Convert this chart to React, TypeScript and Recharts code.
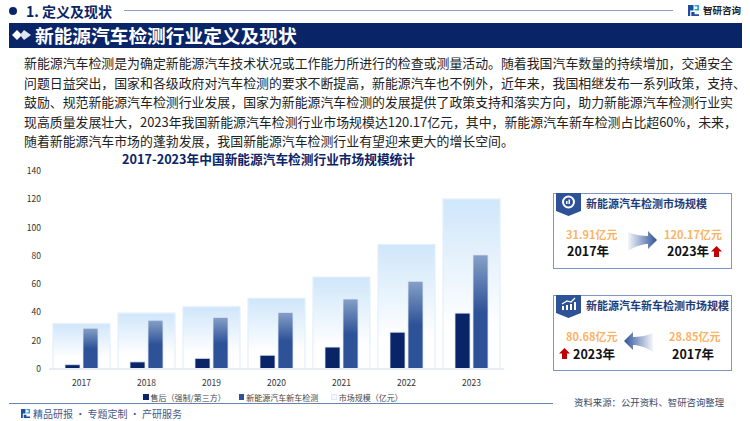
import { BarChart, Bar, XAxis, YAxis, Legend } from "recharts";

const YEARS = ["2017", "2018", "2019", "2020", "2021", "2022", "2023"];
const AFTER_SALES = [3.06, 5, 7.5, 9.7, 15.5, 26, 39.49];
const NEW_CAR = [28.85, 34.5, 36.5, 40, 49.5, 62, 80.68];
const MARKET = [31.91, 39.5, 44, 50, 65, 88, 120.17];
const Y_TICKS = [0, 20, 40, 60, 80, 100, 120, 140];

const LEGEND_ITEMS = [
  { label: "售后（强制/第三方）", color: "#0a2468", border: "#0a2468" },
  { label: "新能源汽车新车检测", color: "#2e5298", border: "#2e5298" },
  { label: "市场规模（亿元）", color: "#f4f9ff", border: "#dce9fb" },
];

const PARAGRAPH = [
  "新能源汽车检测是为确定新能源汽车技术状况或工作能力所进行的检查或测量活动。随着我国汽车数量的持续增加，交通安全",
  "问题日益突出，国家和各级政府对汽车检测的要求不断提高，新能源汽车也不例外，近年来，我国相继发布一系列政策，支持、",
  "鼓励、规范新能源汽车检测行业发展，国家为新能源汽车检测的发展提供了政策支持和落实方向，助力新能源汽车检测行业实",
  "现高质量发展壮大，2023年我国新能源汽车检测行业市场规模达120.17亿元，其中，新能源汽车新车检测占比超60%，未来，",
  "随着新能源汽车市场的蓬勃发展，我国新能源汽车检测行业有望迎来更大的增长空间。",
];
const PARAGRAPH_TOPS = [53, 73, 92, 112, 131];

const data = YEARS.map((year, i) => ({
  year,
  afterSales: AFTER_SALES[i],
  newCar: NEW_CAR[i],
  market: MARKET[i],
}));

const FONT = '"Noto Sans CJK SC", "Noto Sans", sans-serif';
const NAVY = "#0a2468";

function Txt(props: { x: number; y: number; size: number; color: string; bold?: boolean; w?: number; align?: "left" | "center" | "right"; children: React.ReactNode }) {
  const { x, y, size, color, bold, w, align, children } = props;
  return (
    <div style={{
      position: "absolute", left: x, top: y - 10, height: 20, lineHeight: "20px", width: w,
      fontSize: size, color, fontWeight: bold ? 700 : 400, whiteSpace: "nowrap", textAlign: align,
    }}>{children}</div>
  );
}

function Logo({ x, y, s }: { x: number; y: number; s: number }) {
  return (
    <svg style={{ position: "absolute", left: x, top: y }} width={s} height={s} viewBox="0 0 10 10">
      <path d="M0 0H5V5H2V10H0Z" fill="#1d4f9c" />
      <path d="M6 0H10V5H6V3.6H8.4V1.4H6Z" fill="#2aa4dc" />
      <path d="M3 6.4H6V8.4H10V10H3Z" fill="#1d4f9c" />
    </svg>
  );
}

function UpArrow({ x, y }: { x: number; y: number }) {
  return (
    <svg style={{ position: "absolute", left: x, top: y }} width={11} height={11} viewBox="0 0 11 11">
      <path d="M5.5 0L11 5.5H8V11H3V5.5H0Z" fill="#c00000" />
    </svg>
  );
}

function Ribbon({ x, y, trend }: { x: number; y: number; trend?: boolean }) {
  return (
    <svg style={{ position: "absolute", left: x, top: y }} width={25} height={23} viewBox="0 0 25 23">
      <path d="M0 0H25V18L12.5 23L0 18Z" fill="#2e5298" />
      {trend ? (
        <>
          <rect x={6} y={11} width={2} height={4} fill="#fff" />
          <rect x={10} y={10} width={2} height={5} fill="#fff" />
          <rect x={14} y={9} width={2} height={6} fill="#fff" />
          <rect x={18} y={7} width={2} height={8} fill="#fff" />
          <path d="M6 9L11 6L15 7L19 3" fill="none" stroke="#fff" strokeWidth={1.2} />
        </>
      ) : (
        <>
          <circle cx={12.5} cy={9} r={5.5} fill="none" stroke="#fff" strokeWidth={2} />
          <rect x={10} y={8} width={1.5} height={3} fill="#fff" />
          <rect x={12.5} y={6.5} width={1.5} height={4.5} fill="#fff" />
        </>
      )}
    </svg>
  );
}

function BlockArrow({ x, y, flip, id }: { x: number; y: number; flip?: boolean; id: string }) {
  return (
    <svg style={{ position: "absolute", left: x, top: y, transform: flip ? "scaleX(-1)" : undefined }} width={29} height={20} viewBox="0 0 29 20">
      <defs>
        <linearGradient id={id} x1="0" x2="1" y1="0" y2="0">
          <stop offset="0" stopColor="#2e5298" stopOpacity={0.05} />
          <stop offset="1" stopColor="#2e5298" />
        </linearGradient>
      </defs>
      <path d="M0 1C8 4 14 5 20 5V0L29 9L20 18V13C14 13 8 15 0 20Z" fill={`url(#${id})`} />
    </svg>
  );
}

function Card({ y }: { y: number }) {
  return (
    <div style={{ position: "absolute", left: 553, top: y, width: 177, height: 74, border: "1px solid #7f95c4", background: "#fff" }} />
  );
}

function ChartLegend() {
  return (
    <div style={{ display: "flex", justifyContent: "flex-start", paddingLeft: 143, height: 18, alignItems: "center", fontSize: 8, color: "#444", fontFamily: FONT }}>
      {LEGEND_ITEMS.map((item) => (
        <div key={item.label} style={{ display: "flex", alignItems: "center", marginRight: 13, whiteSpace: "nowrap" }}>
          <span style={{ width: 3.5, height: 3.5, background: item.color, border: `1px solid ${item.border}`, marginRight: 2 }} />
          {item.label}
        </div>
      ))}
    </div>
  );
}

export default function App() {
  return (
    <div style={{ position: "absolute", left: 0, top: 0, width: 750, height: 421, background: "#fff", overflow: "hidden", fontFamily: FONT }}>
      {/* top strip */}
      <div style={{ position: "absolute", left: 9, top: 7, width: 8, height: 8, borderRadius: 4, background: NAVY }} />
      <Txt x={26} y={11} size={14} color={NAVY} bold>1. 定义及现状</Txt>
      <div style={{ position: "absolute", left: 124, top: 10, width: 549, height: 1, background: "#8a9cc6" }} />
      <Logo x={688} y={5} s={11} />
      <Txt x={703} y={10} size={9.5} color="#222" bold>智研咨询</Txt>

      {/* banner */}
      <div style={{ position: "absolute", left: 9, top: 23, width: 733, height: 25, background: NAVY }} />
      <svg style={{ position: "absolute", left: 12, top: 29 }} width={19} height={12} viewBox="0 0 19 12">
        <path d="M5 1L10 6L5 11L0 6Z" fill="#fff" />
        <path d="M12 1L19 6L12 11L8 6Z" fill="#dfe5f0" />
      </svg>
      <Txt x={35} y={35} size={18.7} color="#fff" bold>新能源汽车检测行业定义及现状</Txt>

      {/* body text */}
      {PARAGRAPH.map((line, i) => (
        <div key={i} style={{ position: "absolute", left: 24, top: PARAGRAPH_TOPS[i], height: 20, lineHeight: "20px", fontSize: 12.9, color: "#222", whiteSpace: "nowrap" }}>{line}</div>
      ))}

      <Txt x={0} y={159} w={537} align="center" size={12.7} color={NAVY} bold>2017-2023年中国新能源汽车检测行业市场规模统计</Txt>

      <div style={{ position: "absolute", left: 0, top: 160 }}>
        <BarChart width={520} height={246} data={data} barGap={3} margin={{ top: 11, right: 16, bottom: 0, left: 0 }}>
          <defs>
            <linearGradient id="marketFill" x1="0" y1="0" x2="0" y2="1">
              <stop offset="0" stopColor="#cfe6fa" />
              <stop offset="0.75" stopColor="#ffffff" />
            </linearGradient>
            <linearGradient id="newCarFill" x1="0" y1="0" x2="0" y2="1">
              <stop offset="0" stopColor="#86a0c8" />
              <stop offset="0.5" stopColor="#2e5298" />
              <stop offset="1" stopColor="#2e5298" />
            </linearGradient>
          </defs>
          <XAxis dataKey="year" height={19} tickLine={false} tickMargin={5}
            axisLine={{ stroke: "#e8ecf3", strokeWidth: 2 }} tick={{ fill: "#333", fontSize: 8.5 }} interval={0} />
          <XAxis dataKey="year" xAxisId="back" hide />
          <YAxis width={49} domain={[0, 140]} ticks={Y_TICKS} axisLine={false} tickLine={false} tickSize={0} tickMargin={8}
            tick={{ fill: "#333", fontSize: 8.5 }} interval={0} />
          <Legend verticalAlign="bottom" height={18} content={() => <ChartLegend />} />
          <Bar dataKey="market" name="市场规模（亿元）" xAxisId="back" barSize={57} fill="url(#marketFill)" stroke="#e3eefc" strokeWidth={1.2} isAnimationActive={false} />
          <Bar dataKey="afterSales" name="售后（强制/第三方）" barSize={15} fill={NAVY} stroke="#dfe7f5" strokeWidth={0.8} isAnimationActive={false} />
          <Bar dataKey="newCar" name="新能源汽车新车检测" barSize={15} fill="url(#newCarFill)" stroke="#dfe7f5" strokeWidth={0.8} isAnimationActive={false} />
        </BarChart>
      </div>

      {/* footer */}
      <div style={{ position: "absolute", left: 9, top: 403, width: 544, height: 1, background: "#6a83b5" }} />
      <Logo x={21} y={409} s={9} />
      <Txt x={33} y={414} size={10} color="#3f5a8a">精品研报 · 专题定制 · 产研服务</Txt>
      <Txt x={574} y={402} size={9.4} color="#3a4a6a">资料来源：公开资料、智研咨询整理</Txt>

      {/* first card */}
      <Card y={193} />
      <Ribbon x={556} y={193} />
      <Txt x={586} y={203} size={11} color="#1f3d7a" bold>新能源汽车检测市场规模</Txt>
      <Txt x={566} y={234} size={11} color="#fdb366" bold>31.91亿元</Txt>
      <Txt x={567} y={251} size={12.5} color="#111" bold>2017年</Txt>
      <BlockArrow x={628} y={231} id="arrowRight" />
      <Txt x={664} y={234} size={11} color="#fdb366" bold>120.17亿元</Txt>
      <Txt x={667} y={251} size={12.5} color="#111" bold>2023年</Txt>
      <UpArrow x={711} y={246} />

      {/* second card */}
      <Card y={295} />
      <Ribbon x={556} y={295} trend />
      <Txt x={586} y={305} size={11} color="#1f3d7a" bold>新能源汽车新车检测市场规模</Txt>
      <Txt x={566} y={336} size={11} color="#fdb366" bold>80.68亿元</Txt>
      <UpArrow x={559} y={348} />
      <Txt x={573} y={354} size={12.5} color="#111" bold>2023年</Txt>
      <BlockArrow x={624} y={332} flip id="arrowLeft" />
      <Txt x={669} y={336} size={11} color="#fdb366" bold>28.85亿元</Txt>
      <Txt x={672} y={354} size={12.5} color="#111" bold>2017年</Txt>
    </div>
  );
}
